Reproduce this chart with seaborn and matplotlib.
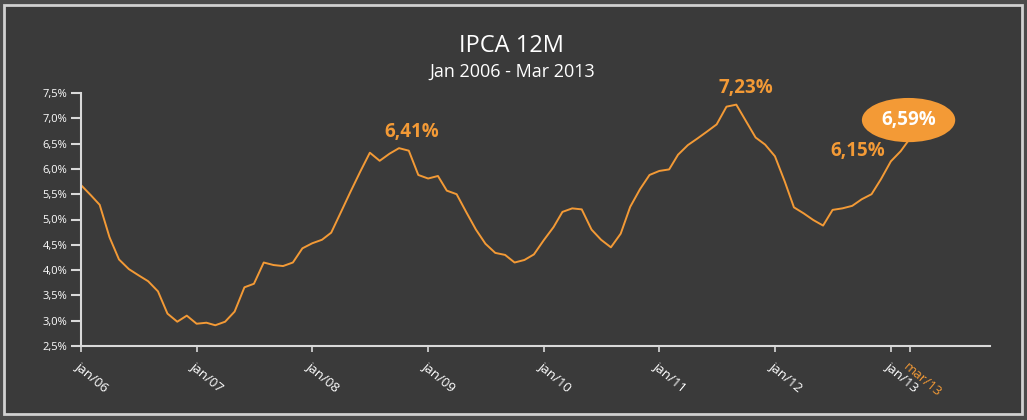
import matplotlib
matplotlib.use("Agg")
from matplotlib import pyplot as plt
from matplotlib.patches import Rectangle
import pandas as pd
import seaborn as sns

# IPCA 12-month accumulated, monthly, Jan 2006 - Mar 2013
ipca = [5.68, 5.48, 5.29, 4.65, 4.21, 4.02, 3.90, 3.78, 3.58, 3.14, 2.98, 3.10,
        2.94, 2.96, 2.91, 2.98, 3.18, 3.66, 3.73, 4.15, 4.10, 4.08, 4.15, 4.43,
        4.53, 4.60, 4.74, 5.15, 5.55, 5.95, 6.32, 6.16, 6.30, 6.41, 6.36, 5.88,
        5.81, 5.86, 5.57, 5.50, 5.15, 4.80, 4.52, 4.34, 4.30, 4.15, 4.20, 4.31,
        4.59, 4.85, 5.15, 5.22, 5.20, 4.80, 4.60, 4.45, 4.72, 5.25, 5.60, 5.88,
        5.96, 5.99, 6.28, 6.47, 6.60, 6.74, 6.88, 7.23, 7.27, 6.95, 6.62, 6.48,
        6.25, 5.75, 5.24, 5.12, 4.99, 4.88, 5.19, 5.22, 5.27, 5.40, 5.50, 5.80,
        6.15, 6.35, 6.59]
months = pd.date_range("2006-01-01", periods=len(ipca), freq="MS")

tick_dates = ["2006-01-01", "2007-01-01", "2008-01-01", "2009-01-01", "2010-01-01",
              "2011-01-01", "2012-01-01", "2013-01-01"]
tick_labels = ["jan/06", "jan/07", "jan/08", "jan/09", "jan/10", "jan/11", "jan/12", "jan/13"]
last_label = "mar/13"

# highlighted points: (date, value, text)
highlights = [("2008-10-01", 6.41, "6,41%"),
              ("2011-08-01", 7.23, "7,23%"),
              ("2013-01-01", 6.15, "6,15%")]
last_value = "6,59%"

df = pd.DataFrame({"mes": months, "ipca": ipca})

BG = "#3a3a3a"
ORANGE = "#f39a36"
GRID = "#d9d9d9"

sns.set_style("dark")
plt.rcParams["font.family"] = ["Open Sans", "DejaVu Sans"]

fig = plt.figure(figsize=(10.27, 4.2), dpi=100, facecolor="#4a4a4a")
fig.patches.append(Rectangle((4 / 1027, 6 / 420), 1018 / 1027, 409 / 420,
                             transform=fig.transFigure, facecolor=BG,
                             edgecolor="#d0d0d0", linewidth=2, zorder=-10))
ax = fig.add_axes([81 / 1027, 74 / 420, 909 / 1027, 253 / 420])
ax.set_facecolor("none")
ax.set_zorder(5)

sns.lineplot(data=df, x="mes", y="ipca", ax=ax, color=ORANGE, linewidth=1.4)

ax.set_ylim(2.5, 7.5)
ax.set_xlim(pd.Timestamp("2006-01-01"), pd.Timestamp("2013-11-10"))
yt = [2.5 + 0.5 * i for i in range(11)]
ax.set_yticks(yt)
ax.set_yticklabels([f"{v:.1f}%".replace(".", ",") for v in yt], color="white", fontsize=8)

xt = [pd.Timestamp(d) for d in tick_dates] + [months[-1]]
ax.set_xticks(xt)
labels = ax.set_xticklabels(tick_labels + [last_label], rotation=-40, ha="left",
                            va="top", rotation_mode="anchor", fontsize=9.5, color="white")
labels[-1].set_color(ORANGE)
ax.tick_params(axis="y", direction="out", length=7, width=1.5, color=GRID, pad=3, left=True)
ax.tick_params(axis="x", direction="out", length=4, width=1.2, color=GRID, pad=6, bottom=True)
ax.get_xticklines()[-2].set_color(ORANGE)

ax.grid(False)
for s in ["top", "right"]:
    ax.spines[s].set_visible(False)
for s in ["left", "bottom"]:
    ax.spines[s].set_color(GRID)
    ax.spines[s].set_linewidth(1.5)
ax.set_xlabel("")
ax.set_ylabel("")

offsets = [(13, 16), (19, 19), (-33, 10)]
for (d, v, txt), off in zip(highlights, offsets):
    ax.annotate(txt, (pd.Timestamp(d), v), xytext=off, textcoords="offset pixels",
                ha="center", va="center", color=ORANGE, fontsize=13.5, fontweight="bold")
ax.annotate(last_value, (months[-1], ipca[-1]), xytext=(-1, 19), textcoords="offset pixels",
            ha="center", va="center", color="white", fontsize=13.5, fontweight="bold",
            bbox=dict(boxstyle="ellipse,pad=0.3", fc=ORANGE, ec="none"))

fig.text(0.498, 0.89, "IPCA 12M", ha="center", va="center", color="white", fontsize=17)
fig.text(0.499, 0.83, "Jan 2006 - Mar 2013", ha="center", va="center", color="white", fontsize=13)

fig.savefig("out.png", dpi=100, facecolor=fig.get_facecolor())
